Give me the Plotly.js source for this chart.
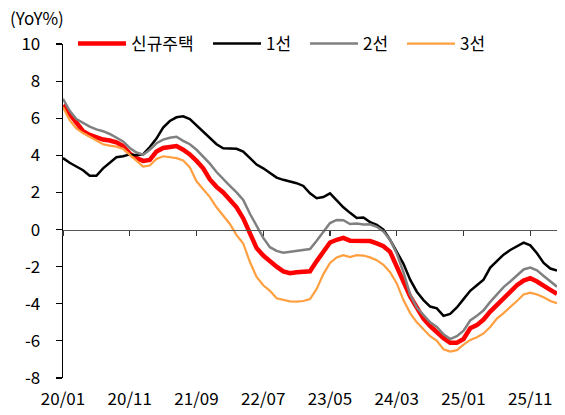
<!DOCTYPE html>
<html>
<head>
<meta charset="utf-8">
<script src="https://cdn.plot.ly/plotly-3.0.1.min.js"></script>
<style>html,body{margin:0;padding:0;background:#fff;}#chart{width:565px;height:415px;}</style>
</head>
<body>
<div id="chart"></div>
<script>
const months = [
 "20/01","20/02","20/03","20/04","20/05","20/06","20/07","20/08","20/09","20/10","20/11","20/12",
 "21/01","21/02","21/03","21/04","21/05","21/06","21/07","21/08","21/09","21/10","21/11","21/12",
 "22/01","22/02","22/03","22/04","22/05","22/06","22/07","22/08","22/09","22/10","22/11","22/12",
 "23/01","23/02","23/03","23/04","23/05","23/06","23/07","23/08","23/09","23/10","23/11","23/12",
 "24/01","24/02","24/03","24/04","24/05","24/06","24/07","24/08","24/09","24/10","24/11","24/12",
 "25/01","25/02","25/03","25/04","25/05","25/06","25/07","25/08","25/09","25/10","25/11","25/12",
 "26/01","26/02","26/03"];

const newHousing = [6.7,6.2,5.7,5.3,5.1,4.95,4.85,4.8,4.7,4.5,4.1,3.85,
 3.7,3.75,4.2,4.4,4.45,4.5,4.3,4.05,3.7,3.3,2.7,2.3,
 2.0,1.6,1.2,0.6,-0.2,-1.0,-1.4,-1.73,-2.0,-2.25,-2.35,-2.3,
 -2.28,-2.25,-1.7,-1.2,-0.7,-0.55,-0.45,-0.6,-0.6,-0.6,-0.62,-0.75,
 -0.9,-1.2,-2.0,-2.8,-3.6,-4.2,-4.8,-5.2,-5.55,-5.85,-6.1,-6.1,
 -5.9,-5.32,-5.15,-4.85,-4.42,-4.05,-3.7,-3.35,-3.0,-2.75,-2.62,-2.8,
 -3.05,-3.25,-3.47];

const tier1 = [3.85,3.6,3.4,3.2,2.9,2.9,3.3,3.6,3.9,3.95,4.05,4.0,
 4.05,4.45,4.9,5.5,5.85,6.05,6.1,5.95,5.6,5.25,4.95,4.6,
 4.38,4.38,4.35,4.2,3.85,3.5,3.3,3.05,2.8,2.68,2.58,2.5,
 2.35,1.95,1.69,1.75,1.95,1.55,1.2,0.9,0.62,0.65,0.4,0.25,
 0.0,-0.56,-1.2,-1.85,-2.7,-3.35,-3.8,-4.15,-4.25,-4.65,-4.55,-4.2,
 -3.75,-3.3,-3.0,-2.7,-2.05,-1.7,-1.35,-1.1,-0.9,-0.7,-0.85,-1.28,
 -1.8,-2.1,-2.21];

const tier2 = [7.05,6.4,5.95,5.75,5.55,5.4,5.3,5.15,4.95,4.75,4.4,4.15,
 4.03,4.3,4.65,4.85,4.95,5.0,4.78,4.6,4.3,3.95,3.55,3.1,
 2.7,2.35,2.0,1.6,0.85,0.2,-0.45,-0.95,-1.15,-1.25,-1.2,-1.12,
 -1.1,-1.05,-0.6,-0.1,0.35,0.52,0.5,0.3,0.32,0.27,0.28,0.15,
 -0.1,-0.55,-1.3,-2.3,-3.5,-4.2,-4.6,-5.0,-5.25,-5.65,-5.9,-5.75,
 -5.45,-4.9,-4.65,-4.35,-3.9,-3.5,-3.1,-2.8,-2.45,-2.15,-2.05,-2.2,
 -2.5,-2.8,-3.08];

const tier3 = [6.6,5.9,5.45,5.2,5.0,4.8,4.6,4.52,4.47,4.35,4.02,3.7,
 3.4,3.45,3.8,3.95,3.92,3.85,3.72,3.35,2.6,2.2,1.75,1.2,
 0.75,0.3,-0.3,-0.75,-1.75,-2.55,-3.0,-3.3,-3.7,-3.8,-3.87,-3.88,
 -3.85,-3.75,-3.2,-2.4,-1.8,-1.5,-1.38,-1.48,-1.38,-1.4,-1.5,-1.65,
 -1.9,-2.3,-2.9,-3.8,-4.5,-5.0,-5.4,-5.75,-6.0,-6.45,-6.58,-6.5,
 -6.2,-5.95,-5.8,-5.6,-5.25,-4.8,-4.5,-4.2,-3.85,-3.5,-3.4,-3.5,
 -3.65,-3.85,-3.97];

const seriesNames = ["신규주택","1선","2선","3선"];
const xTickLabels = ["20/01","20/11","21/09","22/07","23/05","24/03","25/01","25/11"];
const yTickVals = [10,8,6,4,2,0,-2,-4,-6,-8];
const yTickText = ["10","8","6","4","2","0","-2","-4","-6","-8"];

const FONT = '"Noto Sans CJK KR", "Noto Sans", sans-serif';
const series = [newHousing, tier1, tier2, tier3];
const colors = ["#FF0000","#000000","#808080","#FF9F40"];
const widths = [4.5, 2.5, 2.5, 2.2];
const legendIds = ['legend','legend2','legend3','legend4'];
const legendPx = [73, 208, 305, 402]; // left edge of each legend entry, px

const data = series.map((vals, i) => ({
  type: 'scatter', mode: 'lines', x: months, y: vals, name: seriesNames[i],
  legend: legendIds[i],
  line: {color: colors[i], width: widths[i]}, xaxis: 'x', yaxis: 'y'
}));
// invisible helper so the zero-line axis (x2) is drawn
data.unshift({type:'scatter', mode:'lines', x: months, y: months.map(() => null), xaxis:'x2', yaxis:'y', showlegend:false, hoverinfo:'skip'});

const ymin = -8, ymax = 10;
const plotL = 63, plotW = 565 - 63 - 8;
const layout = {
  width: 565, height: 415,
  margin: {l: 63, r: 8, t: 44, b: 37},
  paper_bgcolor: '#ffffff', plot_bgcolor: '#ffffff',
  font: {family: FONT, size: 17, color: '#000'},
  showlegend: true,
  xaxis: {type: 'category', range: [0, months.length - 1], showgrid: false, zeroline: false,
    showline: false, ticks: '', tickmode: 'array', tickvals: xTickLabels, ticktext: xTickLabels,
    tickfont: {family: FONT, size: 17, color: '#000'}, ticklabelstandoff: 9, fixedrange: true},
  xaxis2: {type: 'category', overlaying: 'x', anchor: 'free', position: (0 - ymin) / (ymax - ymin),
    range: [0, months.length - 1], showgrid: false, zeroline: false, showline: true,
    linecolor: '#555', linewidth: 1.5, ticks: 'outside', ticklen: 5, tickwidth: 1.2, tickcolor: '#333',
    tickmode: 'array', tickvals: xTickLabels, showticklabels: false, side: 'bottom'},
  yaxis: {range: [ymin, ymax], showgrid: false, zeroline: false, showline: true, linecolor: '#000',
    linewidth: 1.3, ticks: 'outside', ticklen: 6, tickwidth: 1.2, tickcolor: '#000',
    tickmode: 'array', tickvals: yTickVals, ticktext: yTickText,
    tickfont: {family: FONT, size: 17, color: '#000'}, ticklabelstandoff: 12},
  annotations: [{text: '(YoY%)', xref: 'paper', yref: 'paper', x: (8 - 63) / 494, y: 1 + (44 - 18) / 334,
    xanchor: 'left', yanchor: 'middle', showarrow: false, font: {family: FONT, size: 17, color: '#000'}}]
};
legendIds.forEach((id, i) => {
  layout[id] = {orientation: 'h', x: (legendPx[i] - plotL) / plotW, xanchor: 'left', y: 1.0, yanchor: 'middle',
    font: {family: FONT, size: 17, color: '#000'}, bgcolor: 'rgba(0,0,0,0)', itemwidth: 48};
});

Plotly.newPlot('chart', data, layout, {displayModeBar: false, staticPlot: true});
</script>
</body>
</html>
